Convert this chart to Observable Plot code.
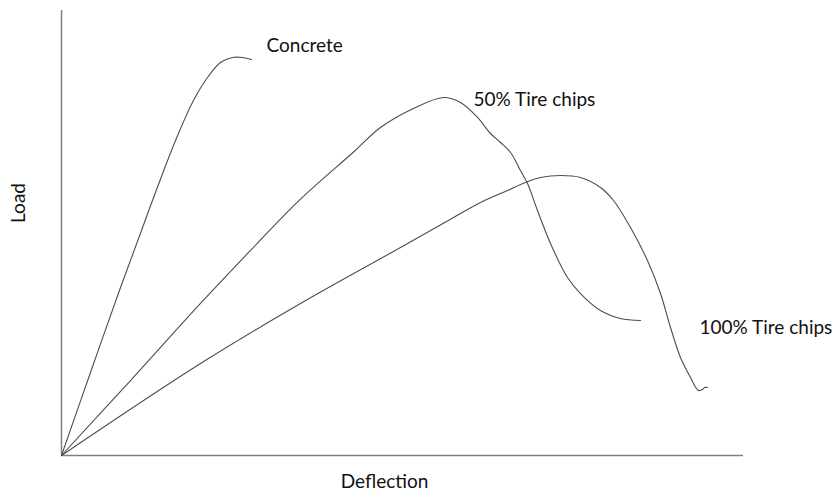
<!DOCTYPE html>
<html>
<head>
<meta charset="utf-8">
<script src="https://cdn.jsdelivr.net/npm/d3@7"></script>
<script src="https://cdn.jsdelivr.net/npm/@observablehq/plot@0.6"></script>
<style>
  html, body { margin: 0; padding: 0; background: #fff; }
  #chart svg { display: block; }
</style>
</head>
<body>
<div id="chart"></div>
<script>
// Load–deflection curves (relative units, 0–100 on both axes)
const concreteDeflection = [0, 4.25, 8.65, 11.73, 13.34, 16.72, 19.35, 21.41, 23.31, 25.07, 26.54, 27.86];
const concreteLoad       = [0, 18.65, 37.75, 50.56, 57.3, 70.79, 79.78, 84.94, 88.31, 89.44, 89.44, 88.99];

const tire50Deflection = [0, 10.12, 20.38, 27.71, 35.04, 42.82, 46.77, 51.61, 56.01, 58.5, 61.0, 62.9, 64.37, 65.84, 67.3, 68.33, 69.79, 71.7, 74.19, 76.1, 79.03, 81.96, 84.9];
const tire50Load       = [0, 16.85, 34.16, 46.07, 57.6, 68.2, 73.71, 77.98, 80.45, 79.33, 75.96, 72.36, 70.34, 68.09, 64.04, 61.12, 55.06, 47.64, 40.0, 36.4, 32.58, 30.79, 30.34];

const tire100Deflection = [0, 20.38, 35.04, 49.71, 57.04, 61.44, 65.4, 68.04, 70.23, 73.17, 76.1, 79.03, 80.94, 83.43, 85.92, 87.83, 89.3, 90.76, 92.23, 93.4, 93.99, 94.28, 94.72];
const tire100Load       = [0, 20.67, 34.16, 46.74, 53.1, 56.85, 59.55, 61.35, 62.47, 62.92, 62.47, 60.22, 57.3, 51.24, 43.82, 36.4, 28.76, 22.02, 17.53, 14.61, 14.83, 15.28, 15.28];

// Series names and where each name sits beside its curve
const seriesNames = ["Concrete", "50% Tire chips", "100% Tire chips"];
const labelDeflection = [30.06, 60.41, 93.55];
const labelLoad = [92.13, 80.0, 28.76];

const toRows = (xs, ys, name) => xs.map((x, i) => ({deflection: x, load: ys[i], series: name}));
const curves = [
  ...toRows(concreteDeflection, concreteLoad, seriesNames[0]),
  ...toRows(tire50Deflection, tire50Load, seriesNames[1]),
  ...toRows(tire100Deflection, tire100Load, seriesNames[2])
];
const labels = seriesNames.map((name, i) => ({name, deflection: labelDeflection[i], load: labelLoad[i]}));

const font = "Lato, 'Open Sans', sans-serif";

const chart = Plot.plot({
  width: 837,
  height: 492,
  marginLeft: 61,
  marginRight: 94,
  marginTop: 10,
  marginBottom: 37,
  style: {fontFamily: font, background: "#fff"},
  x: {domain: [0, 100], axis: null},
  y: {domain: [0, 100], axis: null},
  marks: [
    Plot.ruleX([0], {y1: 0, y2: 100, stroke: "#7f7f7f", strokeWidth: 1.5}),
    Plot.ruleY([0], {x1: 0, x2: 100, stroke: "#7f7f7f", strokeWidth: 1.5}),
    Plot.line(curves, {x: "deflection", y: "load", z: "series", curve: "catmull-rom", stroke: "#4d4d4d", strokeWidth: 1.1}),
    Plot.text(labels, {x: "deflection", y: "load", text: "name", textAnchor: "start", lineAnchor: "middle", fontSize: 19, fill: "#111"}),
    Plot.text(["Load"], {frameAnchor: "left", textAnchor: "middle", lineAnchor: "middle", dx: -43, dy: -30, rotate: -90, fontSize: 19, fill: "#111"}),
    Plot.text(["Deflection"], {frameAnchor: "bottom", textAnchor: "middle", lineAnchor: "middle", dx: -18, dy: 26, fontSize: 19, fill: "#111"})
  ]
});
document.getElementById("chart").appendChild(chart);
</script>
</body>
</html>
